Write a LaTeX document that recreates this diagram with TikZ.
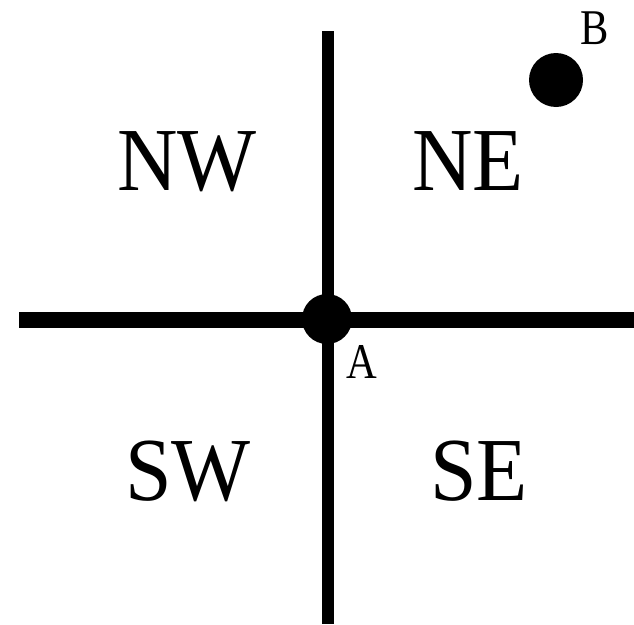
\documentclass[tikz,border=0pt]{standalone}
\usepackage{fontspec}
\newfontfamily\bigfont[FakeStretch=0.93]{Liberation Serif}
\newfontfamily\smallfont[FakeStretch=0.85]{Liberation Serif}
\begin{document}
\begin{tikzpicture}[x=1pt,y=-1pt,
  axis/.style={line cap=butt},
  dot/.style={circle,fill=black,inner sep=0pt},
  quad/.style={anchor=base west,inner sep=0pt,font=\bigfont\fontsize{90}{90}\selectfont},
  ptlabel/.style={anchor=base west,inner sep=0pt,font=\smallfont\fontsize{50}{50}\selectfont}]
\useasboundingbox (0,0) rectangle (634,624);
\coordinate (top) at (328,31);
\coordinate (bottom) at (328,624);
\coordinate (left) at (19,320);
\coordinate (right) at (634,320);
\draw[axis,line width=12pt] (top) -- (bottom);
\draw[axis,line width=16pt] (left) -- (right);
\node[dot,minimum size=50pt] (A) at (327,319) {};
\node[dot,minimum size=54pt] (B) at (556,80) {};
\node[ptlabel] (Alab) at (346,378) {A};
\node[ptlabel] (Blab) at (580,44) {B};
\node[quad] (NW) at (117,190) {NW};
\node[quad] (NE) at (412,190) {NE};
\node[quad] (SW) at (125,500) {SW};
\node[quad] (SE) at (430,500) {SE};
\end{tikzpicture}
\end{document}
